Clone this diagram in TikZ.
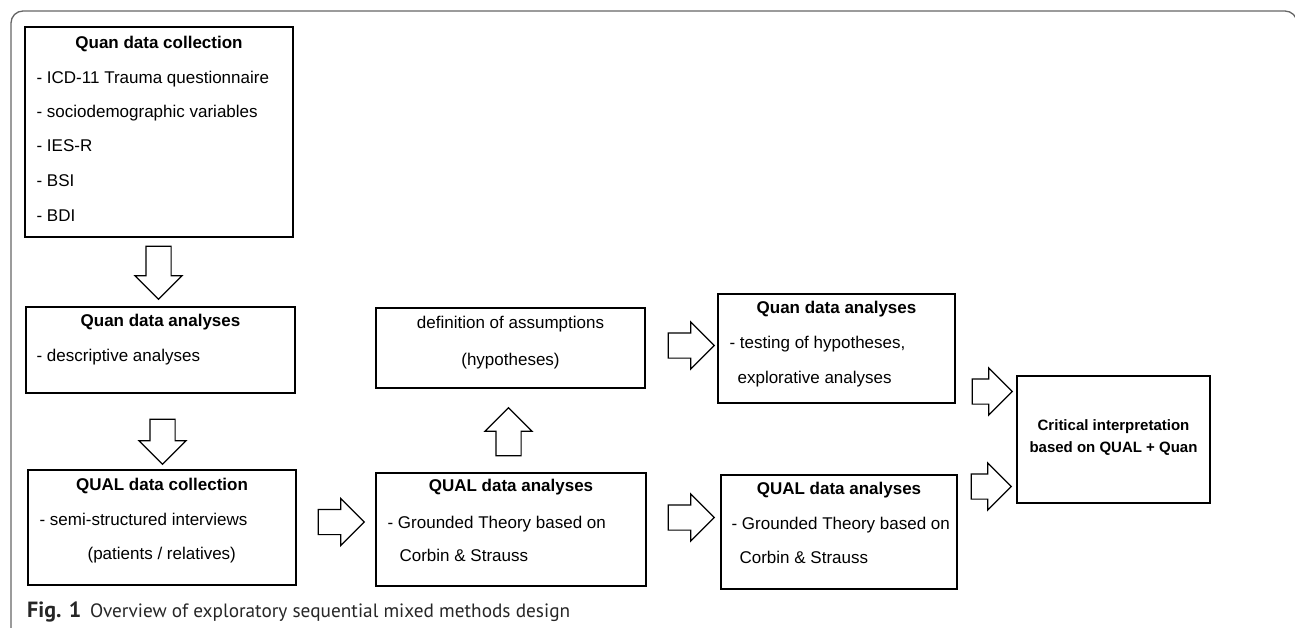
\documentclass[tikz,border=0pt]{standalone}
\usepackage{fontspec}
\setmainfont{Liberation Sans}
\newfontfamily\capfont{PT Sans}
\usetikzlibrary{positioning, shapes.arrows, calc}

\begin{document}
\begin{tikzpicture}[
    x=1pt, y=-1pt,
    font=\fontsize{17}{20}\selectfont,
    %% plain step box
    stepbox/.style={draw, line width=1.2pt, inner sep=0pt},
    %% bold heading of a box
    head/.style={font=\fontsize{17}{20}\selectfont\bfseries, inner sep=0pt,
        text height=12pt, text depth=3.5pt},
    %% one line of text in a box
    item/.style={anchor=west, inner sep=0pt, text height=12pt, text depth=3.5pt},
    %% hollow block arrow between the steps
    blockarrow/.style={single arrow, draw, line width=1.2pt, fill=white,
        inner xsep=0pt, inner ysep=12pt,
        minimum width=46pt, single arrow head extend=11pt},
    %% figure caption
    caption/.style={font=\capfont\fontsize{19.3}{22}\selectfont, inner sep=0pt,
        text=black!85}
]
\useasboundingbox (0,0) rectangle (1295,628);
\clip (0,0) rectangle (1295,628);

%%-------------------------------------------------------------- frame
\draw[line width=1.3pt, draw=black!60, rounded corners=12pt]
    (11,640) -- (11,11) -- (1297,11) -- (1297,640);

%%-------------------------------------------------------------- boxes
\node[stepbox, minimum width=268pt, minimum height=210pt] (qcoll)  at (159,132)     {};
\node[stepbox, minimum width=269pt, minimum height=86pt]  (qana)   at (160.5,350)   {};
\node[stepbox, minimum width=268pt, minimum height=115pt] (Qcoll)  at (162,527.5)   {};
\node[stepbox, minimum width=269pt, minimum height=80pt]  (assume) at (510.5,348)   {};
\node[stepbox, minimum width=270pt, minimum height=113pt] (Qana)   at (511,529.5)   {};
\node[stepbox, minimum width=237pt, minimum height=109pt] (qtest)  at (836.5,348.5) {};
\node[stepbox, minimum width=236pt, minimum height=114pt] (Qana2)  at (839,532)     {};
\node[stepbox, minimum width=193pt, minimum height=127pt] (crit)   at (1113.5,439.5) {};

%%-------------------------------------------------------------- box texts
% Quan data collection
\node[head] (qcoll-h) at ($(qcoll.north)+(0,18)$) {Quan data collection};
\node[item] (qcoll-1) at ($(qcoll.north west)+(12,53)$)  {- ICD-11 Trauma questionnaire};
\node[item] (qcoll-2) at ($(qcoll.north west)+(12,87)$)  {- sociodemographic variables};
\node[item] (qcoll-3) at ($(qcoll.north west)+(12,121)$) {- IES-R};
\node[item] (qcoll-4) at ($(qcoll.north west)+(12,156)$) {- BSI};
\node[item] (qcoll-5) at ($(qcoll.north west)+(12,191)$) {- BDI};

% Quan data analyses (descriptive)
\node[head] (qana-h) at ($(qana.north)+(0,16)$) {Quan data analyses};
\node[item] (qana-1) at ($(qana.north west)+(11,51)$) {- descriptive analyses};

% QUAL data collection
\node[head] (Qcoll-h) at ($(Qcoll.north)+(0,17)$) {QUAL data collection};
\node[item] (Qcoll-1) at ($(Qcoll.north west)+(12,52)$) {- semi-structured interviews};
\node[item] (Qcoll-2) at ($(Qcoll.north west)+(60,86)$) {(patients / relatives)};

% assumptions
\node[inner sep=0pt, text height=12pt, text depth=3.5pt] (assume-1)
    at ($(assume.north)+(0,17)$) {definition of assumptions};
\node[inner sep=0pt, text height=12pt, text depth=3.5pt] (assume-2)
    at ($(assume.north)+(0,54)$) {(hypotheses)};

% QUAL data analyses (middle)
\node[head] (Qana-h) at ($(Qana.north)+(0,15)$) {QUAL data analyses};
\node[item] (Qana-1) at ($(Qana.north west)+(12,52)$) {- Grounded Theory based on};
\node[item] (Qana-2) at ($(Qana.north west)+(24,85)$) {Corbin \& Strauss};

% Quan data analyses (testing)
\node[head] (qtest-h) at ($(qtest.north)+(0,16)$) {Quan data analyses};
\node[item] (qtest-1) at ($(qtest.north west)+(12,51)$) {- testing of hypotheses,};
\node[item] (qtest-2) at ($(qtest.north west)+(20,86)$) {explorative analyses};

% QUAL data analyses (right)
\node[head] (Qana2-h) at ($(Qana2.north)+(0,16)$) {QUAL data analyses};
\node[item] (Qana2-1) at ($(Qana2.north west)+(11,51)$) {- Grounded Theory based on};
\node[item] (Qana2-2) at ($(Qana2.north west)+(19,85)$) {Corbin \& Strauss};

% critical interpretation
\node[font=\fontsize{15}{22}\selectfont\bfseries, align=center, inner sep=0pt]
    (crit-t) at ($(crit.north)+(0,62)$) {Critical interpretation\\based on QUAL + Quan};

%%-------------------------------------------------------------- block arrows
\node[blockarrow, rotate=-90, minimum height=53pt] (a1) at (158.5,266.5) {};
\node[blockarrow, rotate=-90, minimum height=45pt] (a2) at (162.5,435.5) {};
\node[blockarrow, minimum height=46pt]             (a3) at (335,522)     {};
\node[blockarrow, rotate=90, minimum height=48pt]  (a4) at (508.5,438)   {};
\node[blockarrow, minimum height=46pt]             (a5) at (685,345.5)   {};
\node[blockarrow, minimum height=46pt]             (a6) at (685,517.5)   {};
\node[blockarrow, minimum height=40pt]             (a7) at (986,391.5)   {};
\node[blockarrow, minimum height=40pt]             (a8) at (985,486.5)   {};

%%-------------------------------------------------------------- caption
\node[caption, anchor=base west] (cap) at (27,617)
    {\makebox[63pt][l]{\fontsize{22}{22}\selectfont\bfseries Fig. 1}Overview of exploratory sequential mixed methods design};

\end{tikzpicture}
\end{document}
